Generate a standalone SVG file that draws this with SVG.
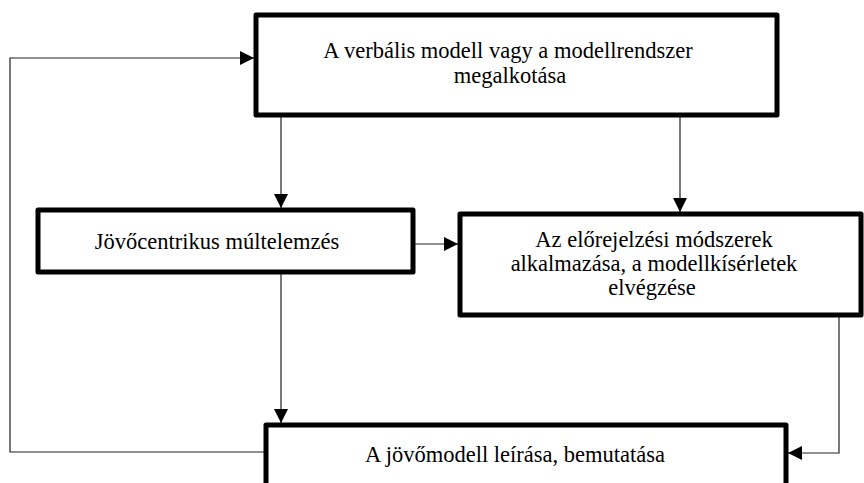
<svg xmlns="http://www.w3.org/2000/svg" width="864" height="483" viewBox="0 0 864 483">
<style>
.box{fill:#fff;stroke:#000;stroke-width:5;stroke-linejoin:round}
.lbl{font-family:'Liberation Serif','DejaVu Serif','Noto Serif',serif;font-size:22.5px;fill:#000;text-anchor:middle}
.con{fill:none;stroke:#222;stroke-width:1.2}
</style>
<defs>
<marker id="ah" markerUnits="userSpaceOnUse" markerWidth="14" markerHeight="14" viewBox="0 0 14 14" refX="14" refY="7" orient="auto">
<path d="M0,0 L14,7 L0,14 Z" fill="#000"/>
</marker>
</defs>
<rect width="864" height="483" fill="#fff"/>
<g id="connectors">
<path class="con" d="M281,117 V208" marker-end="url(#ah)"/>
<path class="con" d="M680,117 V212" marker-end="url(#ah)"/>
<path class="con" d="M413,244 H458" marker-end="url(#ah)"/>
<path class="con" d="M281,273 V423" marker-end="url(#ah)"/>
<path class="con" d="M839,317 V453 H788" marker-end="url(#ah)"/>
<path class="con" d="M266,452 H10 V58 H254" marker-end="url(#ah)"/>
</g>
<g id="n1">
<rect class="box" x="256" y="15" width="521" height="100"/>
<text class="lbl" font-family="Liberation Serif, serif" x="508" y="58">A verbális modell vagy a modellrendszer</text>
<text class="lbl" font-family="Liberation Serif, serif" x="510" y="83">megalkotása</text>
</g>
<g id="n2">
<rect class="box" x="38" y="210" width="375" height="62"/>
<text class="lbl" font-family="Liberation Serif, serif" x="217" y="249">Jövőcentrikus múltelemzés</text>
</g>
<g id="n3">
<rect class="box" x="460" y="214" width="401" height="101"/>
<text class="lbl" font-family="Liberation Serif, serif" x="654" y="247">Az előrejelzési módszerek</text>
<text class="lbl" font-family="Liberation Serif, serif" x="654" y="271">alkalmazása, a modellkísérletek</text>
<text class="lbl" font-family="Liberation Serif, serif" x="652" y="295">elvégzése</text>
</g>
<g id="n4">
<rect class="box" x="266" y="425" width="520" height="80"/>
<text class="lbl" font-family="Liberation Serif, serif" x="515" y="462">A jövőmodell leírása, bemutatása</text>
</g>
</svg>
